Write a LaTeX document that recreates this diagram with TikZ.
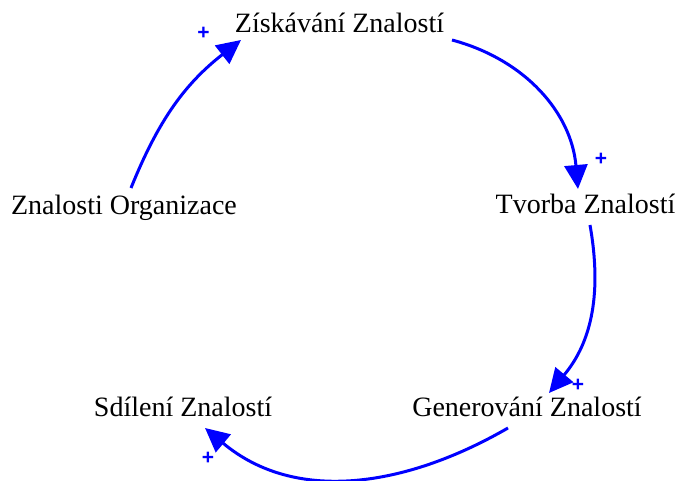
\documentclass[tikz,border=0pt]{standalone}
\usepackage{fontspec}
\setmainfont{Liberation Serif}
\newfontfamily\plusfont{Liberation Sans}
\usetikzlibrary{arrows.meta}
\definecolor{loopblue}{RGB}{0,0,255}
\begin{document}
\begin{tikzpicture}[x=1pt,y=1pt,
  lbl/.style={anchor=base,inner sep=0pt,font=\fontsize{28}{30}\selectfont},
  pls/.style={inner sep=0pt,text=loopblue,font=\plusfont\fontsize{21}{21}\selectfont\bfseries},
  link/.style={draw=loopblue,line width=3pt,-{Triangle[length=24pt,width=23pt]}}]
\useasboundingbox (0,0) rectangle (680,481);
\node[lbl] (zisk) at (339.5,448) {Získávání Znalostí};
\node[lbl] (tvorba) at (585.5,267) {Tvorba Znalostí};
\node[lbl] (orga) at (124,266) {Znalosti Organizace};
\node[lbl] (gener) at (527,64) {Generování Znalostí};
\node[lbl] (sdil) at (183,64) {Sdílení Znalostí};
\node[pls] (p1) at (203.5,448) {+};
\node[pls] (p2) at (601,322) {+};
\node[pls] (p3) at (578,96) {+};
\node[pls] (p4) at (208,23) {+};
\draw[link] ([shift={(7,27)}]orga.base) to[out=68,in=218] ([shift={(-98.5,-7)}]zisk.base);
\draw[link] ([shift={(112.5,-7)}]zisk.base) to[out=-15,in=95] ([shift={(-7.5,25)}]tvorba.base);
\draw[link] ([shift={(4.5,-11)}]tvorba.base) to[out=-80,in=50] ([shift={(22,24)}]gener.base);
\draw[link] ([shift={(-19,-11)}]gener.base) to[out=-150,in=-40] ([shift={(22,-11)}]sdil.base);
\end{tikzpicture}
\end{document}
